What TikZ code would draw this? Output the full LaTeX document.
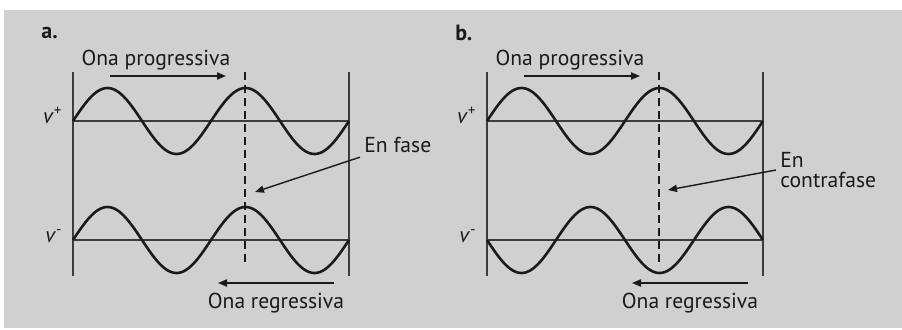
\documentclass[tikz,border=0pt]{standalone}
\usepackage{fontspec}
\setmainfont{PT Sans}
\usetikzlibrary{arrows.meta,positioning}
\definecolor{wvInk}{HTML}{1A1A1A}
\definecolor{wvPanel}{HTML}{D0D0D0}
\tikzset{
  wave/.style={draw=wvInk, line width=1.3pt, line join=round},
  axis/.style={draw=wvInk!85, line width=0.7pt},
  phaseln/.style={draw=wvInk, line width=0.7pt, dash pattern=on 4pt off 2.5pt},
  arr/.style={-{Triangle[length=4.5pt,width=3.6pt]}, line width=0.7pt, draw=wvInk},
  lbl/.style={font=\fontsize{10.8}{10}\selectfont, text=wvInk, inner sep=0pt},
  ttl/.style={lbl, font=\fontsize{11}{10}\selectfont\bfseries},
}

\begin{document}
\begin{tikzpicture}[x=0.5pt,y=-0.5pt]
        \useasboundingbox (0,0) rectangle (902,329);
        \fill[wvPanel] (4,10) rectangle (902,328);
        \foreach \p/\sg/\xs in {a/1/0, b/-1/207} {
            \begin{scope}[xshift=\xs pt]
                \node[ttl, anchor=west] (ttl-\p) at (41,33) {\p.};
                % frame and axes
                \draw[axis] (73,72) -- (73,276);
                \draw[axis] (349,72) -- (349,276);
                \draw[axis] (73,121) -- (349,121);
                \draw[axis] (73,240) -- (349,240);
                \node[lbl, anchor=base east] (vp-\p) at (63,123) {\textit{v}\textsuperscript{+}};
                \node[lbl, anchor=base east] (vm-\p) at (63,242) {\textit{v}\textsuperscript{-}};
                % waves
                \draw[wave] plot[domain=0:720, samples=145] ({73+\x/360*138}, {121-33*sin(\x)});
                \draw[wave] plot[domain=0:720, samples=145] ({73+\x/360*138}, {240-33*\sg*sin(\x)});
                \draw[phaseln] (245,72) -- (245,266);
                % travelling directions
                \node[lbl] (prog-\p) at (156,60) {Ona progressiva};
                \coordinate (pa-\p) at (110,76);
                \coordinate (pb-\p) at (226,76);
                \draw[arr] (pa-\p) -- (pb-\p);
                \node[lbl] (reg-\p) at (276,303) {Ona regressiva};
                \coordinate (ra-\p) at (334,283);
                \coordinate (rb-\p) at (218,283);
                \draw[arr] (ra-\p) -- (rb-\p);
            \end{scope}
        }
        % panel a
        \node[lbl, anchor=west, inner sep=2pt] (fase) at (360,145) {En fase};
        \coordinate (tip-a) at (255,192);
        \draw[arr] (fase.south west) -- (tip-a);
        % panel b
        \node[lbl, anchor=west, align=left, inner sep=2pt] (contra) at (776,170) {En\\contrafase};
        \coordinate (tip-b) at (668,190);
        \draw[arr] (contra.west) -- (tip-b);
    \end{tikzpicture}
\end{document}
